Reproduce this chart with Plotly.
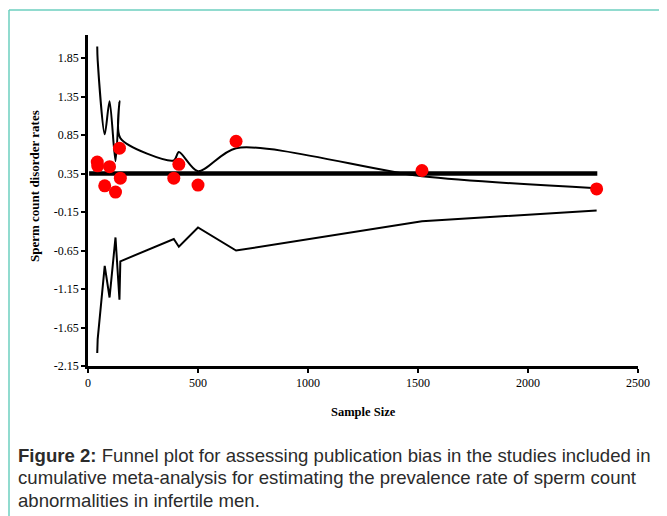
import plotly.graph_objects as go

# ---- data ----
sample_size = [42, 44, 76, 98, 125, 143, 147, 390, 413, 500, 673, 1518, 2312]
rates = [0.50, 0.45, 0.19, 0.44, 0.11, 0.68, 0.29, 0.29, 0.47, 0.20, 0.77, 0.39, 0.15]
upper_limit = [2.00, 1.82, 0.86, 1.29, 0.51, 1.29, 0.81, 0.52, 0.63, 0.38, 0.68, 0.315, 0.16]
lower_limit = [-1.98, -1.80, -0.85, -1.26, -0.48, -1.29, -0.79, -0.50, -0.60, -0.35, -0.65, -0.27, -0.13]
pooled_x = [5, 2315]
pooled_rate = [0.35, 0.35]
y_ticks = [-2.15, -1.65, -1.15, -0.65, -0.15, 0.35, 0.85, 1.35, 1.85]
y_tick_labels = ["-2.15", "-1.65", "-1.15", "-0.65", "-0.15", "0.35", "0.85", "1.35", "1.85"]
x_ticks = [0, 500, 1000, 1500, 2000, 2500]

# the page body has an 8px default margin; work in page pixels and shift
OFF = 8
W, H = 667 - OFF, 516 - OFF
L, R, T, B = 88 - OFF, 638 - OFF, 35 - OFF, 366 - OFF


def px(x):
    return (x - OFF - L) / (R - L)


def py(y):
    return (B - (y - OFF)) / (B - T)


fig = go.Figure()
fig.add_trace(go.Scatter(x=sample_size, y=upper_limit, mode="lines",
                         line=dict(color="black", width=2, shape="spline", smoothing=0.8),
                         showlegend=False, hoverinfo="skip"))
fig.add_trace(go.Scatter(x=sample_size, y=lower_limit, mode="lines",
                         line=dict(color="black", width=2),
                         showlegend=False, hoverinfo="skip"))
fig.add_trace(go.Scatter(x=pooled_x, y=pooled_rate, mode="lines",
                         line=dict(color="black", width=4.5),
                         showlegend=False, hoverinfo="skip"))
fig.add_trace(go.Scatter(x=sample_size, y=rates, mode="markers",
                         marker=dict(color="#ff0000", size=13),
                         showlegend=False))

serif = "Liberation Serif, Times New Roman, serif"
sans = "Liberation Sans, Arial, sans-serif"

fig.update_xaxes(range=[0, 2500], tickvals=x_ticks, showline=True, linecolor="black",
                 linewidth=2.5, ticks="outside", ticklen=4, tickwidth=2, tickcolor="black",
                 showgrid=False, zeroline=False,
                 tickfont=dict(family=serif, size=12, color="black"))
fig.update_yaxes(range=[-2.15, 2.15], tickvals=y_ticks, ticktext=y_tick_labels,
                 showline=True, linecolor="black", linewidth=2.5, ticks="outside",
                 ticklen=4, tickwidth=2, tickcolor="black", showgrid=False, zeroline=False,
                 tickfont=dict(family=serif, size=12, color="black"))

annotations = [
    dict(text="<b>Sample Size</b>", x=px(363), y=py(412), xref="paper", yref="paper",
         showarrow=False, font=dict(family=serif, size=12.5, color="black"),
         xanchor="center", yanchor="middle"),
    dict(text="<b>Sperm count disorder rates</b>", x=px(34), y=py(186), xref="paper",
         yref="paper", showarrow=False, textangle=-90,
         font=dict(family=serif, size=13, color="black"),
         xanchor="center", yanchor="middle"),
]
caption_lines = [
    "<b>Figure 2:</b> Funnel plot for assessing publication bias in the studies included in",
    "cumulative meta-analysis for estimating the prevalence rate of sperm count",
    "abnormalities in infertile men.",
]
for i, line in enumerate(caption_lines):
    annotations.append(dict(text=line, x=px(16), y=py(455 + 22.5 * i), xref="paper",
                            yref="paper", showarrow=False, xanchor="left", yanchor="middle",
                            font=dict(family=sans, size=18.6, color="#2b2b2b")))

shapes = [
    dict(type="line", xref="paper", yref="paper", x0=px(9), x1=px(700), y0=py(10), y1=py(10),
         line=dict(color="#6dcfbf", width=1.5)),
    dict(type="line", xref="paper", yref="paper", x0=px(9), x1=px(9), y0=py(10), y1=py(560),
         line=dict(color="#6dcfbf", width=1.5)),
]

fig.update_layout(width=W, height=H, margin=dict(l=L, r=W - R, t=T, b=H - B),
                  plot_bgcolor="white", paper_bgcolor="white",
                  annotations=annotations, shapes=shapes, showlegend=False)

fig.write_html("out.html")
